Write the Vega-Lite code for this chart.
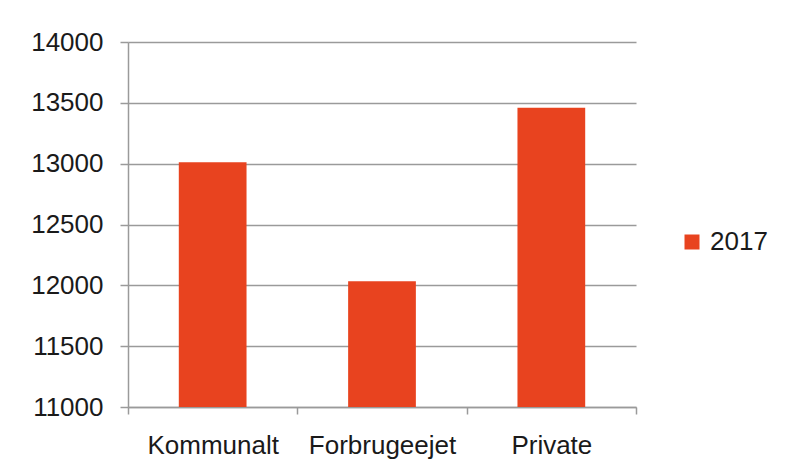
{
  "$schema": "https://vega.github.io/schema/vega-lite/v6.json",
  "autosize": {"type": "none"},
  "width": 508,
  "height": 365,
  "padding": {"left": 128, "top": 42, "right": 153, "bottom": 64},
  "background": "white",
  "data": {
    "values": [
      {"kategori": "Kommunalt", "aar": "2017", "vaerdi": 13012},
      {"kategori": "Forbrugeejet", "aar": "2017", "vaerdi": 12033},
      {"kategori": "Private", "aar": "2017", "vaerdi": 13459}
    ]
  },
  "mark": {"type": "bar", "clip": true, "width": {"band": 0.4}},
  "encoding": {
    "x": {
      "field": "kategori",
      "type": "nominal",
      "sort": null,
      "scale": {"paddingInner": 0, "paddingOuter": 0},
      "axis": {
        "title": null,
        "labelAngle": 0,
        "tickBand": "extent",
        "tickSize": 7,
        "labelPadding": 18,
        "labelFontSize": 26,
        "labelFont": "Liberation Sans",
        "labelColor": "#1a1a1a",
        "domainColor": "#9a9a9a",
        "domainWidth": 1.5,
        "tickColor": "#9a9a9a",
        "tickWidth": 1.5,
        "grid": false
      }
    },
    "y": {
      "field": "vaerdi",
      "type": "quantitative",
      "scale": {"domain": [11000, 14000], "nice": false, "zero": false},
      "axis": {
        "title": null,
        "values": [11000, 11500, 12000, 12500, 13000, 13500, 14000],
        "format": "d",
        "tickSize": 8,
        "labelPadding": 17,
        "labelFontSize": 26,
        "labelFont": "Liberation Sans",
        "labelColor": "#1a1a1a",
        "domainColor": "#9a9a9a",
        "domainWidth": 1.5,
        "tickColor": "#9a9a9a",
        "tickWidth": 1.5,
        "grid": true,
        "gridColor": "#9a9a9a",
        "gridWidth": 1.5
      }
    },
    "color": {
      "field": "aar",
      "type": "nominal",
      "scale": {"range": ["#E8431F"]},
      "legend": {
        "title": null,
        "orient": "none",
        "legendX": 551,
        "legendY": 187,
        "symbolType": "square",
        "symbolSize": 225,
        "symbolStrokeWidth": 0,
        "symbolOpacity": 1,
        "labelFontSize": 26,
        "labelFont": "Liberation Sans",
        "labelColor": "#1a1a1a",
        "labelOffset": 5
      }
    }
  },
  "config": {
    "view": {"stroke": null}
  }
}
